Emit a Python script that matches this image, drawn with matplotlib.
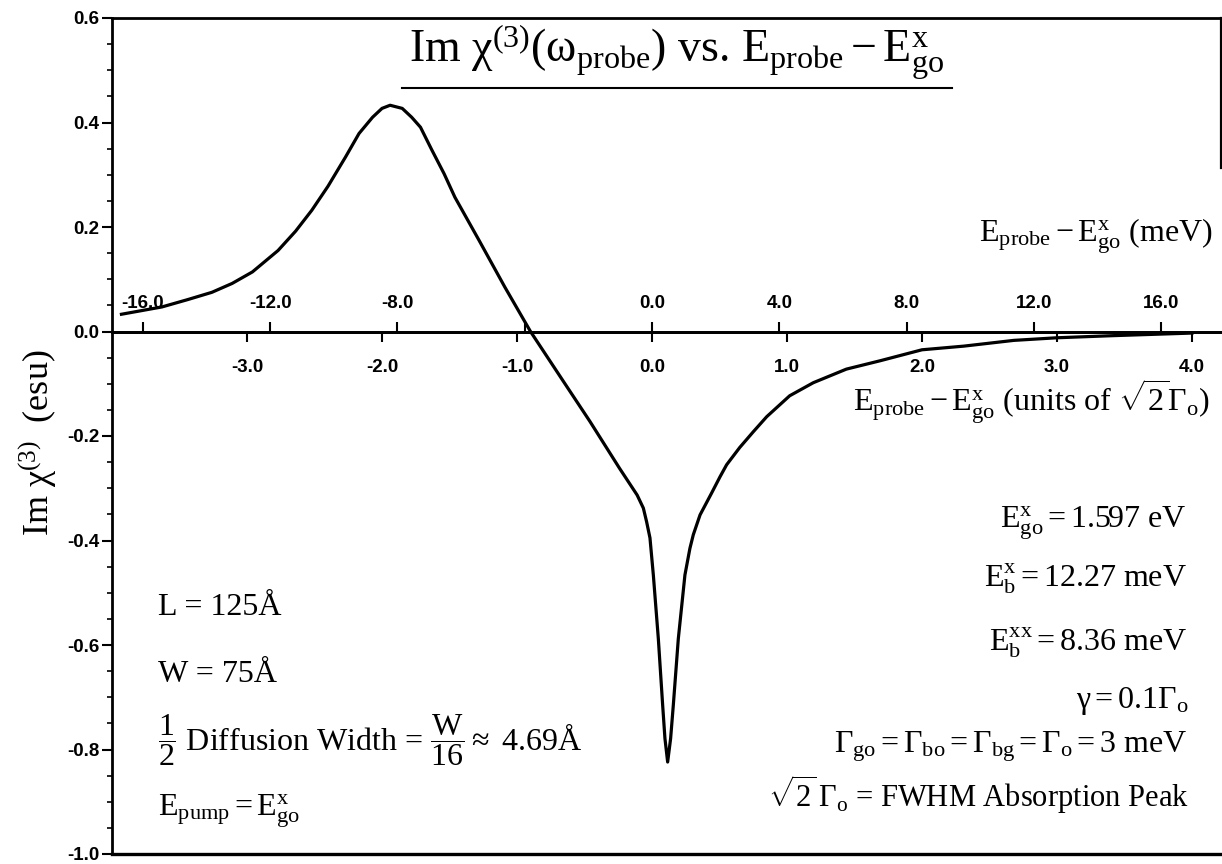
import matplotlib
matplotlib.use("Agg")
import matplotlib.pyplot as plt
from matplotlib.lines import Line2D
from matplotlib.ticker import MultipleLocator
import numpy as np

plt.rcParams["font.family"] = ["Liberation Sans", "DejaVu Sans"]
plt.rcParams["mathtext.fontset"] = "custom"
plt.rcParams["mathtext.rm"] = "Liberation Serif"
plt.rcParams["mathtext.it"] = "Liberation Serif:italic"
plt.rcParams["mathtext.default"] = "regular"
plt.rcParams["axes.unicode_minus"] = False

# curve: x in units of sqrt(2)*Gamma_o, y = Im chi(3) (esu)
units = [-3.93, -3.63, -3.44, -3.26, -3.11, -2.96, -2.77, -2.64, -2.52, -2.40,
         -2.27, -2.17, -2.07, -2.00, -1.94, -1.85, -1.78, -1.715, -1.63, -1.54,
         -1.46, -1.28, -1.09, -0.90, -0.66, -0.46, -0.24, -0.11, -0.064, -0.04,
         -0.015, 0.01, 0.047, 0.079, 0.096, 0.116, 0.138, 0.158, 0.195, 0.244,
         0.281, 0.306, 0.356, 0.44, 0.504, 0.553, 0.65, 0.75, 0.85, 1.02,
         1.195, 1.44, 1.69, 2.0, 2.31, 2.68, 3.0, 3.41, 4.0]
im_chi = [0.033, 0.047, 0.061, 0.075, 0.092, 0.114, 0.155, 0.192, 0.232, 0.278,
          0.334, 0.379, 0.410, 0.427, 0.433, 0.427, 0.410, 0.391, 0.347, 0.302,
          0.257, 0.174, 0.085, 0.000, -0.094, -0.172, -0.262, -0.313, -0.338, -0.364,
          -0.395, -0.466, -0.588, -0.715, -0.779, -0.824, -0.779, -0.715, -0.588, -0.466,
          -0.415, -0.389, -0.351, -0.31, -0.278, -0.255, -0.222, -0.192, -0.163, -0.123,
          -0.098, -0.072, -0.056, -0.035, -0.028, -0.017, -0.012, -0.008, -0.003]

unit_ticks = [-3.0, -2.0, -1.0, 0.0, 1.0, 2.0, 3.0, 4.0]
unit_labels = ["-3.0", "-2.0", "-1.0", "0.0", "1.0", "2.0", "3.0", "4.0"]
mev_ticks = [-16.0, -12.0, -8.0, -4.0, 0.0, 4.0, 8.0, 12.0, 16.0]
mev_labels = ["-16.0", "-12.0", "-8.0", "", "0.0", "4.0", "8.0", "12.0", "16.0"]
y_ticks = [-1.0, -0.8, -0.6, -0.4, -0.2, 0.0, 0.2, 0.4, 0.6]
y_labels = ["-1.0", "-0.8", "-0.6", "-0.4", "-0.2", "0.0", "0.2", "0.4", "0.6"]
mev_per_unit = np.sqrt(2) * 3.0

W, H = 1222, 864
fig = plt.figure(figsize=(W / 100, H / 100), dpi=100)
ax = fig.add_axes([112 / W, 1 - 854 / H, (1221 - 112) / W, (854 - 18) / H])
ax.set_xlim(-4.0, 4.215)
ax.set_ylim(-1.0, 0.6)

ax.plot(units, im_chi, color="k", lw=2.3, solid_joinstyle="round")

# frame: left + top spines, bottom spine moved onto y=0
for s in ["left", "top", "bottom"]:
    ax.spines[s].set_linewidth(2.0)
ax.spines["bottom"].set_position(("data", 0))
ax.spines["right"].set_visible(False)
ax.plot([0, 1], [0, 0], transform=ax.transAxes, color="k", lw=2.4, clip_on=False)
ax.plot([1, 1], [0.82, 1.0], transform=ax.transAxes, color="k", lw=1.6, clip_on=False)

ax.set_xticks(unit_ticks)
ax.set_xticklabels(unit_labels, fontweight="bold")
ax.tick_params(axis="x", direction="out", length=7, width=1.5, pad=13, labelsize=13.5)
ax.set_yticks(y_ticks)
ax.set_yticklabels(y_labels, fontweight="bold")
ax.yaxis.set_minor_locator(MultipleLocator(0.05))
ax.tick_params(axis="y", which="major", direction="out", length=7, width=1.5, pad=2, labelsize=13.5)
ax.tick_params(axis="y", which="minor", direction="out", length=3.5, width=1.2)

# meV scale on the same zero line, ticks pointing up
ax2 = ax.twiny()
ax2.set_xlim(-4.0 * mev_per_unit, 4.215 * mev_per_unit)
for s in ["left", "right", "bottom"]:
    ax2.spines[s].set_visible(False)
ax2.spines["top"].set_position(("data", 0))
ax2.spines["top"].set_linewidth(2.0)
ax2.set_xticks(mev_ticks)
ax2.set_xticklabels(mev_labels, fontweight="bold")
ax2.tick_params(axis="x", direction="out", length=7, width=1.5, pad=7, labelsize=13.5)


def ftext(x, y, s, **kw):
    kw.setdefault("family", "Liberation Serif")
    kw.setdefault("va", "baseline")
    fig.text(x / W, 1 - y / H, s, **kw)


ftext(677, 63, r"Im $\chi^{(3)}(\omega_{probe})$ vs. $E_{probe} - E^{x}_{go}$", ha="center", fontsize=33)
fig.add_artist(Line2D([402 / W, 952 / W], [1 - 88 / H, 1 - 88 / H], color="k", lw=1.5))

ftext(38, 443, r"Im $\chi^{(3)}$  (esu)", ha="center", va="center", rotation=90, fontsize=26)

ftext(1213, 242, r"$E_{probe} - E^{x}_{go}$ (meV)", ha="right", fontsize=23)
ftext(1210, 412, r"$E_{probe} - E^{x}_{go}$ (units of $\sqrt{2}\Gamma_{o}$)", ha="right", fontsize=23)

ftext(158, 615, "L = 125Å", ha="left", fontsize=23)
ftext(158, 682, "W = 75Å", ha="left", fontsize=23)
ftext(158, 750, r"$\dfrac{1}{2}$ Diffusion Width = $\dfrac{W}{16} \approx$ 4.69Å", ha="left", fontsize=23)
ftext(158, 815, r"$E_{pump} = E^{x}_{go}$", ha="left", fontsize=23)

ftext(1187, 527, r"$E^{x}_{go} = 1.597$ eV", ha="right", fontsize=23)
ftext(1187, 587, r"$E^{x}_{b} = 12.27$ meV", ha="right", fontsize=23)
ftext(1187, 650, r"$E^{xx}_{b} = 8.36$ meV", ha="right", fontsize=23)
ftext(1189, 708, r"$\gamma = 0.1\Gamma_{o}$", ha="right", fontsize=23)
ftext(1187, 753, r"$\Gamma_{go} = \Gamma_{bo} = \Gamma_{bg} = \Gamma_{o} = 3$ meV", ha="right", fontsize=23)
ftext(1189, 807, r"$\sqrt{2}\,\Gamma_{o}$ = FWHM Absorption Peak", ha="right", fontsize=22)

fig.savefig("out.png", dpi=100)
